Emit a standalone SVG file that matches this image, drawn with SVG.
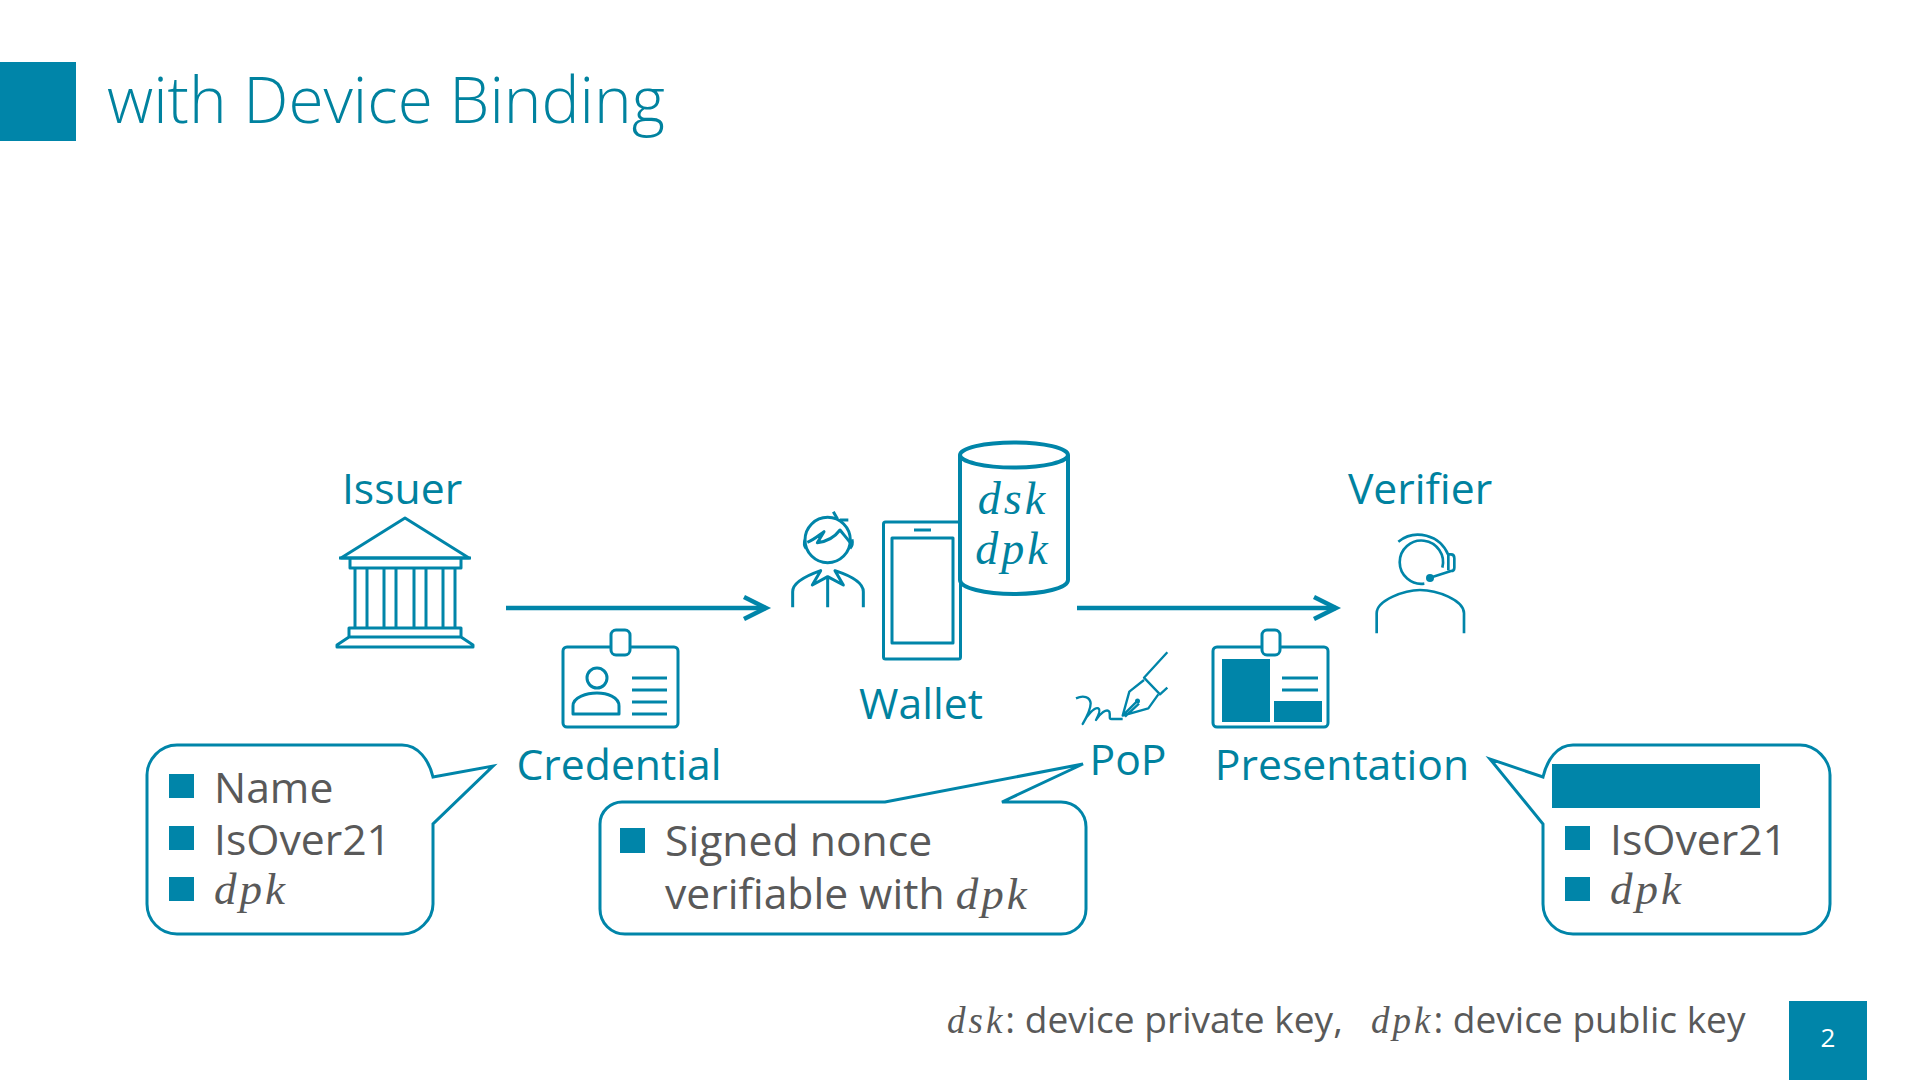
<svg xmlns="http://www.w3.org/2000/svg" width="1920" height="1080" viewBox="0 0 1920 1080">
<style>
text{font-family:"Open Sans","Noto Sans","Liberation Sans",sans-serif}
.t{fill:#00829f;font-size:42.700px}
.g{fill:#595959;font-size:42.700px}
.m{font-family:"Liberation Serif",serif;font-style:italic;letter-spacing:3px;font-size:45px}
.s{fill:none;stroke:#0085a9;stroke-width:3;stroke-linejoin:round}
.f{fill:#0085a9}
.c{fill:#fff;stroke:#0085a9;stroke-width:3;stroke-linejoin:miter}
.a{fill:none;stroke:#0085a9;stroke-width:4.5}
</style>
<defs>
<marker id="h" markerUnits="userSpaceOnUse" markerWidth="30" markerHeight="30" refX="24" refY="13" orient="auto" overflow="visible"><path d="M2,2 L24,13 L2,24" fill="none" stroke="#0085a9" stroke-width="4.5"/></marker>
</defs>
<rect width="1920" height="1080" fill="#fff"/>
<g id="header">
<rect class="f" x="0" y="62" width="76" height="79"/>
<text x="107" y="122.500" font-weight="300" fill="#00829f" style="font-size:63.900px">with Device Binding</text>
</g>
<g id="connectors">
<line class="a" x1="506" y1="608" x2="766" y2="608" marker-end="url(#h)"/>
<line class="a" x1="1077" y1="608" x2="1336" y2="608" marker-end="url(#h)"/>
</g>
<g id="issuer">
<text class="t" x="402" y="503.500" text-anchor="middle">Issuer</text>
<path class="s" d="M405,518 L341,558 H469 Z"/>
<path class="f" d="M339,556.500h132v3h-132z"/>
<path class="s" d="M350,559V568H461V559M355,568V628M367,568V628M384,568V628M396,568V628M414,568V628M426,568V628M443,568V628M455,568V628M349,628H461V637H349ZM349,637L337,645V647H473V645L461,637"/>
</g>
<g id="credential">
<rect class="s" x="563" y="647" width="115" height="80" rx="4"/>
<rect class="c" x="611" y="630" width="19" height="25" rx="5"/>
<circle class="s" cx="597" cy="678" r="10"/>
<path class="s" d="M573,714V706C573,697 587,693 597,693C607,693 619,697 619,706V714Z"/>
<path class="s" d="M632,678H667M632,690H667M632,702H667M632,714H667"/>
<text class="t" x="619" y="780" text-anchor="middle">Credential</text>
</g>
<g id="wallet">
<g transform="translate(780,500) scale(.33333)">
<g class="s" style="stroke-width:9">
<circle cx="143" cy="120" r="68"/>
<path d="M82,127C100,120 115,107 132,95L112,128C140,125 165,110 180,90C192,105 205,120 212,130"/>
<path d="M160,35L172,56M180,60L205,60M78,145Q70,135 75,120M210,145Q220,135 216,118"/>
<path d="M38,322V275C38,245 85,225 122,212L97,255L143,230L190,255L165,212C205,225 250,245 250,275V322M143,230V322"/>
</g>
</g>
<rect class="s" x="883.500" y="522" width="77" height="137" rx="2"/>
<rect class="s" x="892" y="538" width="61" height="105"/>
<path class="s" d="M914,530H931"/>
<path d="M960,455V580C960,588 985,594 1014,594C1043,594 1068,588 1068,580V455" fill="#fff" stroke="#0085a9" stroke-width="4"/>
<ellipse cx="1014" cy="455" rx="54" ry="12.500" fill="#fff" stroke="#0085a9" stroke-width="4"/>
<text class="t m" x="1013" y="514" text-anchor="middle" style="font-size:46px">dsk</text>
<text class="t m" x="1013" y="564" text-anchor="middle" style="font-size:46px">dpk</text>
<text class="t" x="921" y="718.500" text-anchor="middle">Wallet</text>
</g>
<g id="pop">
<g transform="translate(1070,645) scale(.33333)" class="s" style="stroke-width:7">
<path d="M292,22L222,98L270,148L292,128"/>
<path d="M222,105L178,140L158,212L235,190L265,148M158,212L200,170M165,215L207,176"/>
<path d="M18,160C40,150 60,155 62,175C62,195 45,225 38,237C50,210 75,185 85,190C95,195 80,220 78,225C90,205 110,190 118,200C122,215 115,222 125,222H158"/>
</g>
<circle class="f" cx="1137.500" cy="701" r="2.500"/>
<text class="t" x="1128" y="775" text-anchor="middle">PoP</text>
</g>
<g id="presentation">
<rect class="s" x="1213" y="647" width="115" height="80" rx="4"/>
<rect class="c" x="1262" y="630" width="18" height="25" rx="5"/>
<rect class="f" x="1222" y="659" width="48" height="63"/>
<rect class="f" x="1274" y="701" width="48" height="21"/>
<path class="s" d="M1282,678H1318M1282,690H1318"/>
<text class="t" x="1342" y="780" text-anchor="middle">Presentation</text>
</g>
<g id="verifier">
<text class="t" x="1420" y="503.500" text-anchor="middle">Verifier</text>
<g transform="translate(1365,525) scale(.33333)" class="s" style="stroke-width:8">
<path d="M178,176A65,65 0 1 1 232,128"/>
<path d="M100,50C150,10 225,30 250,90V136M250,88H258Q268,88 268,100V128Q268,138 258,138L195,158"/>
<path d="M35,325V265C35,225 120,195 165,195C215,195 297,225 297,265V325"/>
</g>
<circle class="f" cx="1430" cy="578" r="4"/>
</g>
<g id="callout-credential">
<path class="c" d="M177,745H402C418,745 429,760 433,777L493,766L433,824V904C433,920 418,934 403,934H177C160,934 147,920 147,904V775C147,760 160,745 177,745Z"/>
<rect class="f" x="169" y="774" width="25" height="24"/>
<rect class="f" x="169" y="826" width="25" height="24"/>
<rect class="f" x="169" y="877" width="25" height="24"/>
<text class="g" x="214" y="803">Name</text>
<text class="g" x="214" y="855">IsOver21</text>
<text class="g m" x="214" y="904">dpk</text>
</g>
<g id="callout-pop">
<path class="c" d="M622,802H885L1083,764L1002,802H1061C1075,802 1086,813 1086,827V909C1086,923 1075,934 1061,934H625C611,934 600,923 600,909V824C600,811 611,802 622,802Z"/>
<rect class="f" x="620" y="828" width="25" height="25"/>
<text class="g" x="665" y="856">Signed nonce</text>
<text class="g" x="665" y="909">verifiable with <tspan class="m">dpk</tspan></text>
</g>
<g id="callout-presentation">
<path class="c" d="M1573,745H1800C1816,745 1830,760 1830,775V904C1830,920 1816,934 1800,934H1573C1556,934 1543,920 1543,904V824L1490,759L1543,777C1547,760 1557,745 1573,745Z"/>
<rect class="f" x="1552" y="764" width="208" height="44"/>
<rect class="f" x="1565" y="826" width="25" height="24"/>
<rect class="f" x="1565" y="877" width="25" height="24"/>
<text class="g" x="1610" y="855">IsOver21</text>
<text class="g m" x="1610" y="904">dpk</text>
</g>
<g id="footer">
<text class="g" x="947" y="1033" style="font-size:37.100px"><tspan class="m" style="font-size:37px">dsk</tspan>: device private key,</text>
<text class="g" x="1371" y="1033" style="font-size:37.100px"><tspan class="m" style="font-size:37px">dpk</tspan>: device public key</text>
<rect class="f" x="1789" y="1001" width="78" height="79"/>
<text x="1828" y="1047" text-anchor="middle" fill="#fff" font-size="26">2</text>
</g>
</svg>
